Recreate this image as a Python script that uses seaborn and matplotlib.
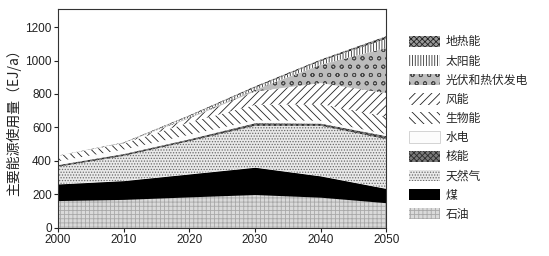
import numpy as np
import pandas as pd
import matplotlib
matplotlib.use("Agg")
import matplotlib.pyplot as plt
import seaborn as sns
from matplotlib.patches import Patch

# ---- data (layer thicknesses, EJ/a) ----
years = [2000, 2010, 2020, 2030, 2040, 2050]
oil = [163, 170, 185, 199, 183, 150]
coal = [99, 112, 137, 163, 127, 85]
gas = [103, 148, 196, 248, 300, 295]
nuclear = [13, 14, 14, 18, 15, 20]
hydro = [20, 24, 24, 14, 15, 10]
biomass = [32, 37, 74, 93, 100, 105]
wind = [2, 3, 25, 80, 125, 140]
pv = [0, 0, 5, 10, 110, 270]
solar = [0, 0, 8, 13, 22, 55]
geothermal = [0, 2, 4, 7, 8, 15]

labels = ["石油", "煤", "天然气", "核能", "水电", "生物能", "风能", "光伏和热伏发电", "太阳能", "地热能"]
series = [oil, coal, gas, nuclear, hydro, biomass, wind, pv, solar, geothermal]
ylabel = "主要能源使用量（EJ/a）"
xticks = [2000, 2010, 2020, 2030, 2040, 2050]
yticks = [0, 200, 400, 600, 800, 1000, 1200]

df = pd.DataFrame({"year": years})
for lab, s in zip(labels, series):
    df[lab] = s

sns.set_theme(style="white")
plt.rcParams["font.family"] = ["Noto Sans CJK SC", "DejaVu Sans"]
plt.rcParams["hatch.linewidth"] = 0.6

styles = {
    "石油": dict(facecolor="#dadada", hatch="++++", edgecolor="#a8a8a8"),
    "煤": dict(facecolor="#000000", hatch=None, edgecolor="#000000"),
    "天然气": dict(facecolor="#e9e9e9", hatch="......", edgecolor="#6a6a6a"),
    "核能": dict(facecolor="#7a7a7a", hatch="xxxxxx", edgecolor="#2a2a2a"),
    "水电": dict(facecolor="#fcfcfc", hatch=None, edgecolor="#cccccc"),
    "生物能": dict(facecolor="white", hatch="\\\\\\\\", edgecolor="#222222"),
    "风能": dict(facecolor="white", hatch="////", edgecolor="#222222"),
    "光伏和热伏发电": dict(facecolor="#bdbdbd", hatch="oo", edgecolor="#4a4a4a"),
    "太阳能": dict(facecolor="white", hatch="||||||", edgecolor="#333333"),
    "地热能": dict(facecolor="#9a9a9a", hatch="xxxxxx", edgecolor="#222222"),
}

fig = plt.figure(figsize=(5.49, 2.56), dpi=100)
ax = fig.add_axes([0.1057, 0.11, 0.598, 0.853])

x = df["year"].to_numpy()
bottom = np.zeros(len(x))
for lab in labels:
    vals = df[lab].to_numpy(dtype=float)
    st = styles[lab]
    ax.fill_between(x, bottom, bottom + vals, facecolor=st["facecolor"],
                    hatch=st["hatch"], edgecolor=st["edgecolor"], linewidth=0)
    bottom = bottom + vals

ax.set_xlim(2000, 2050)
ax.set_ylim(0, 1305)
ax.set_xticks(xticks)
ax.set_yticks(yticks)
ax.tick_params(axis="both", which="both", direction="out", length=3, width=0.8,
               labelsize=8.5, pad=1.5, colors="#222222", bottom=True, left=True)
for lab in ax.get_xticklabels() + ax.get_yticklabels():
    lab.set_family(["Liberation Sans", "DejaVu Sans"])
for sp in ax.spines.values():
    sp.set_visible(True)
    sp.set_color("#333333")
    sp.set_linewidth(0.8)
ax.set_ylabel(ylabel, fontsize=10, labelpad=3, color="#222222")

handles = []
for lab in labels[::-1]:
    st = styles[lab]
    lw = 0.6 if lab == "水电" else 0
    handles.append(Patch(facecolor=st["facecolor"], hatch=st["hatch"],
                         edgecolor=st["edgecolor"], linewidth=lw, label=lab))
leg = fig.legend(handles=handles, loc="upper left", bbox_to_anchor=(0.737, 0.88),
                 frameon=False, fontsize=8.5, handlelength=2.6, handleheight=1.1,
                 labelspacing=0.52, handletextpad=0.45, borderaxespad=0)

fig.savefig("out.png", dpi=100)
